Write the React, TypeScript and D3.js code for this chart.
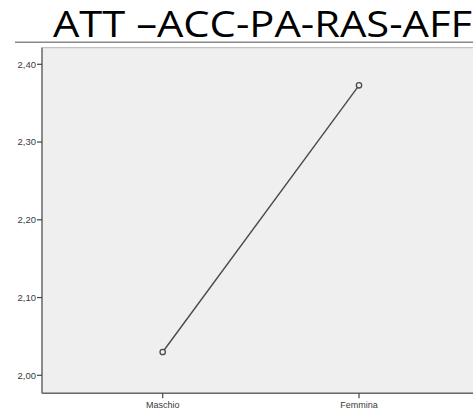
import React from 'react';
import * as d3 from 'd3';

const categories = ['Maschio', 'Femmina'];
const means = [2.03, 2.373];
const yTicks = [2.0, 2.1, 2.2, 2.3, 2.4];
const title = 'ATT –ACC-PA-RAS-AFF';

const W = 473;
const H = 414;

const App: React.FC = () => {
  // scales anchored on the tick positions
  const y = d3.scaleLinear().domain([2.0, 2.4]).range([375.3, 64.3]);
  const x = d3.scalePoint<string>().domain(categories).range([162.7, 359]);

  const frame = { left: 42, top: 47.7, right: 482, bottom: 393.3 };
  const fmt = (v: number) => d3.format('.2f')(v).replace('.', ',');

  const line = d3.line<number>()
    .x((_, i) => x(categories[i]) as number)
    .y(d => y(d));

  return (
    <svg
      width={W}
      height={H}
      style={{ position: 'absolute', left: 0, top: 0, background: '#fff' }}
    >
      <text
        x={53}
        y={37}
        fontFamily="'Open Sans', 'Liberation Sans', sans-serif"
        fontSize={36}
        fill="#000"
        textLength={419}
        lengthAdjust="spacingAndGlyphs"
      >
        {title}
      </text>
      <line x1={15} x2={W} y1={42.3} y2={42.3} stroke="#8a8a8a" strokeWidth={1.6} />

      {/* plot area */}
      <rect
        x={frame.left}
        y={frame.top}
        width={frame.right - frame.left}
        height={frame.bottom - frame.top}
        fill="#efefef"
        stroke="#b5b5b5"
        strokeWidth={1}
      />
      <line x1={frame.left} x2={frame.left} y1={frame.top} y2={frame.bottom} stroke="#6a6a6a" strokeWidth={1.4} />
      <line x1={frame.left} x2={frame.right} y1={frame.bottom} y2={frame.bottom} stroke="#6a6a6a" strokeWidth={1.4} />

      {/* y axis */}
      {yTicks.map(t => (
        <g key={t} transform={`translate(0,${y(t)})`}>
          <line x1={frame.left - 5} x2={frame.left} stroke="#444" strokeWidth={1.2} />
          <text
            x={frame.left - 6}
            dy="0.35em"
            textAnchor="end"
            fontFamily="'Liberation Sans', Arial, sans-serif"
            fontSize={9.5}
            fill="#3a3a3a"
          >
            {fmt(t)}
          </text>
        </g>
      ))}

      {/* x axis */}
      {categories.map(c => (
        <g key={c} transform={`translate(${x(c)},0)`}>
          <line y1={frame.bottom} y2={frame.bottom + 5} stroke="#444" strokeWidth={1.2} />
          <text
            y={frame.bottom + 15}
            textAnchor="middle"
            fontFamily="'Liberation Sans', Arial, sans-serif"
            fontSize={9}
            fill="#3a3a3a"
          >
            {c}
          </text>
        </g>
      ))}

      <path d={line(means) ?? ''} fill="none" stroke="#4a4a4a" strokeWidth={1.4} />
      {means.map((m, i) => (
        <circle
          key={categories[i]}
          cx={x(categories[i])}
          cy={y(m)}
          r={2.7}
          fill="#efefef"
          stroke="#4a4a4a"
          strokeWidth={1.3}
        />
      ))}
    </svg>
  );
};

export default App;
